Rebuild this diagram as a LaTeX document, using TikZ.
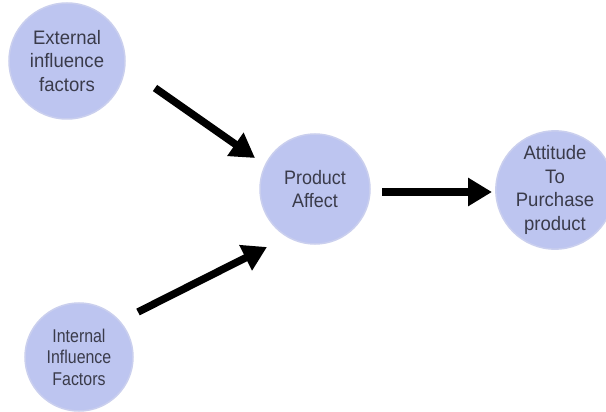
\documentclass[tikz,border=0pt]{standalone}
\usepackage{fontspec}
\setmainfont{Liberation Sans}
\newfontfamily\fontA[FakeStretch=0.95]{Liberation Sans}
\newfontfamily\fontB[FakeStretch=0.92]{Liberation Sans}
\newfontfamily\fontC[FakeStretch=0.86]{Liberation Sans}
\usetikzlibrary{arrows.meta}
\definecolor{bubble}{RGB}{189,197,240}
\definecolor{bubbleedge}{RGB}{202,207,238}
\definecolor{txt}{RGB}{58,59,74}
\tikzset{
  bubblenode/.style={circle, fill=bubble, draw=bubbleedge, line width=1.5pt, inner sep=0pt,
    text=txt, align=center},
  bigarrow/.style={line width=7.5pt, -{Triangle[length=24pt,width=27pt]}},
}
\begin{document}
\begin{tikzpicture}[x=1pt,y=-1pt]
\useasboundingbox (0,0) rectangle (606,412);
\fill[white] (0,0) rectangle (606,412);
\node[bubblenode, minimum size=116pt, font=\fontA\fontsize{19.5}{23.5}\selectfont] (ext) at (67,61) {External\\influence\\factors};
\node[bubblenode, minimum size=110pt, font=\fontB\fontsize{19.5}{23}\selectfont] (prod) at (315,189) {Product\\Affect};
\node[bubblenode, minimum size=96pt, font=\fontA\fontsize{19.5}{23.5}\selectfont] (att) at (555,190) {Attitude\\To\\Purchase\\product};
\node[bubblenode, minimum size=108pt, font=\fontC\fontsize{18.5}{21.5}\selectfont] (int) at (79,357) {Internal\\Influence\\Factors};
\coordinate (a1s) at (155,88);
\coordinate (a1e) at (255,158);
\coordinate (a2s) at (138,312);
\coordinate (a2e) at (267,247);
\coordinate (a3s) at (382,192);
\coordinate (a3e) at (492,192);
\draw[bigarrow] (a1s) -- (a1e);
\draw[bigarrow] (a2s) -- (a2e);
\draw[bigarrow] (a3s) -- (a3e);
\end{tikzpicture}
\end{document}
